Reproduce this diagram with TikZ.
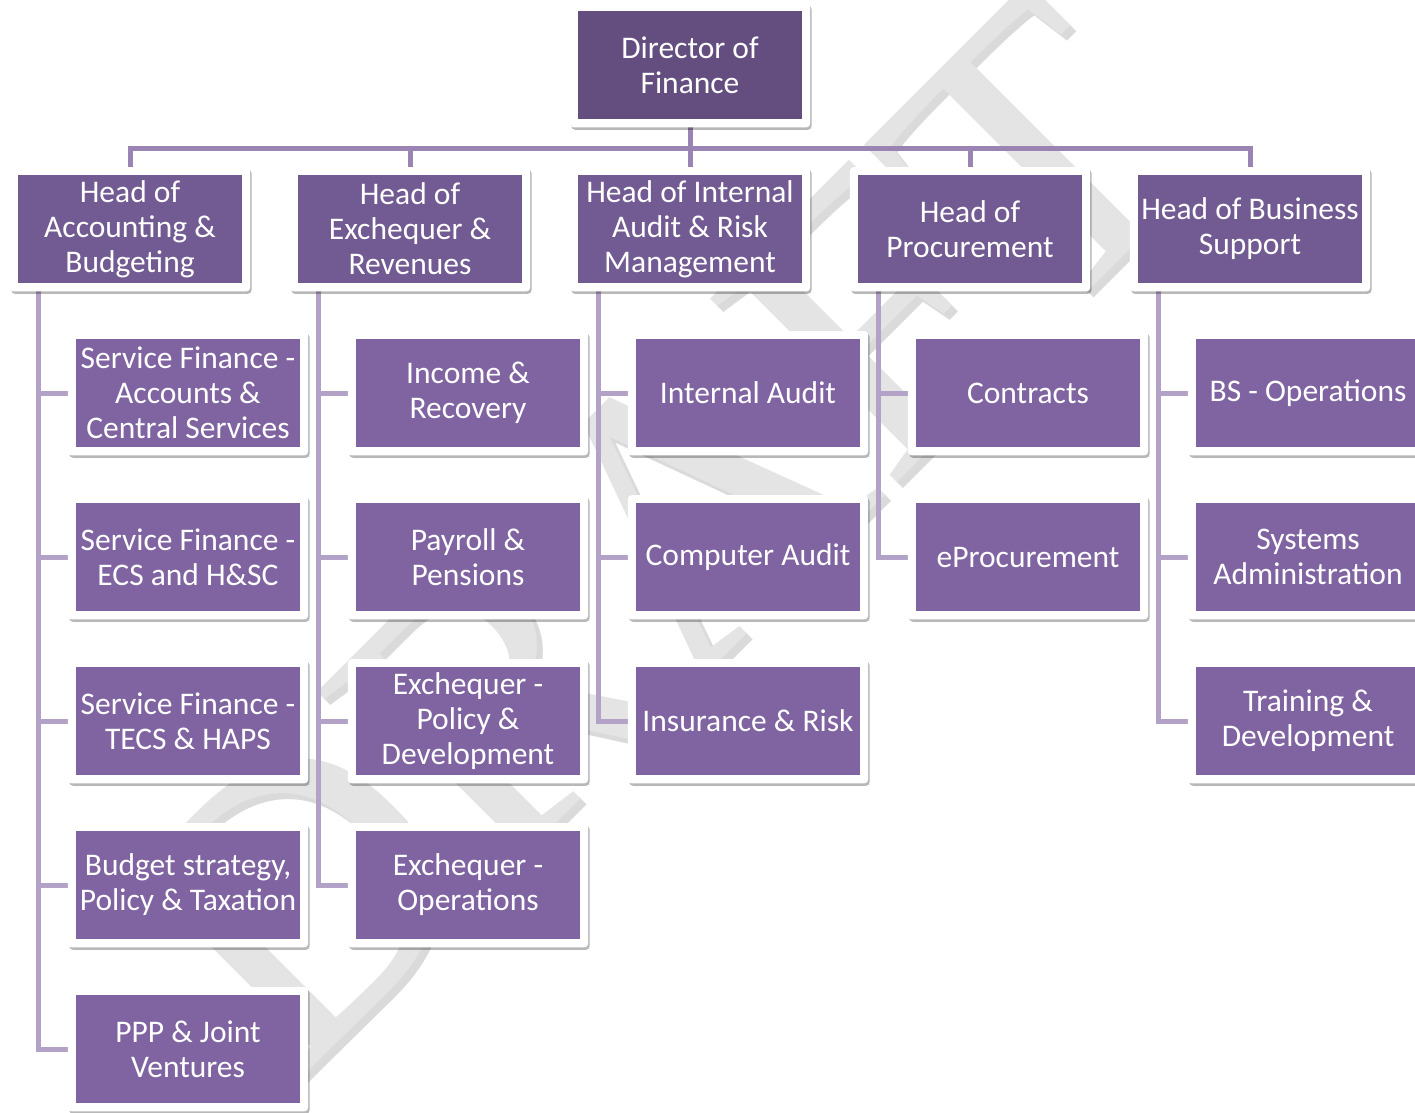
\documentclass[tikz,border=0pt]{standalone}
\usepackage{fontspec}
\setmainfont{Carlito}
\newfontfamily\wmfont{Liberation Serif}
\usetikzlibrary{shadows}
\pgfdeclarelayer{wm}
\pgfdeclarelayer{bg}
\pgfdeclarelayer{frames}
\pgfsetlayers{wm,bg,frames,main}
\definecolor{cDir}{HTML}{644E80}
\definecolor{cHead}{HTML}{725A92}
\definecolor{cSub}{HTML}{8064A2}
\definecolor{cTop}{HTML}{9A84B4}
\definecolor{cLine}{HTML}{B3A2C7}
\definecolor{cWm}{HTML}{E4E4E4}
\definecolor{cWmD}{HTML}{DADADA}
\begin{document}
\begin{tikzpicture}[x=1pt,y=-1pt,
  box/.style={fill=#1, minimum width=224pt, minimum height=107.5pt,
    inner sep=0pt, align=center, text=white,
    font=\fontsize{31.5}{35}\selectfont},
  frame/.style={fill=white, rounded corners=4pt,
    drop shadow={shadow xshift=1.5pt, shadow yshift=-2.5pt, opacity=0.28, fill=black}},
  topconn/.style={draw=cTop, line width=5pt},
  subconn/.style={draw=cLine, line width=5pt},
  wmstyle/.style={font=\wmfont\fontsize{400}{400}\selectfont, rotate=45, anchor=base west, inner sep=0pt}]
\useasboundingbox (0,0) rectangle (1415,1112);
\clip (0,0) rectangle (1415,1112);

% background and watermark
\begin{pgfonlayer}{wm}
\fill[white] (0,0) rectangle (1415,1112);
\node[wmstyle, text=cWmD] (wmshade) at (296,1096) {DRAFT};
\node[wmstyle, text=cWm] (wmtext) at (290,1090) {DRAFT};
\end{pgfonlayer}

% director
\node[box=cDir] (dir) at (690,65) {Director of\\Finance};

% heads
\node[box=cHead] (h1) at (130,229) {Head of\\Accounting \&\\Budgeting};
\node[box=cHead] (h2) at (410,229) {Head of\\Exchequer \&\\Revenues};
\node[box=cHead] (h3) at (690,229) {Head of Internal\\Audit \& Risk\\Management};
\node[box=cHead] (h4) at (970,229) {Head of\\Procurement};
\node[box=cHead] (h5) at (1250,229) {Head of Business\\Support};

% column 1
\node[box=cSub] (a1) at (188,393) {Service Finance -\\Accounts \&\\Central Services};
\node[box=cSub] (a2) at (188,557) {Service Finance -\\ECS and H\&SC};
\node[box=cSub] (a3) at (188,721) {Service Finance -\\TECS \& HAPS};
\node[box=cSub] (a4) at (188,885) {Budget strategy,\\Policy \& Taxation};
\node[box=cSub] (a5) at (188,1049) {PPP \& Joint\\Ventures};
% column 2
\node[box=cSub] (b1) at (468,393) {Income \&\\Recovery};
\node[box=cSub] (b2) at (468,557) {Payroll \&\\Pensions};
\node[box=cSub] (b3) at (468,721) {Exchequer -\\Policy \&\\Development};
\node[box=cSub] (b4) at (468,885) {Exchequer -\\Operations};
% column 3
\node[box=cSub] (c1) at (748,393) {Internal Audit};
\node[box=cSub] (c2) at (748,557) {Computer Audit};
\node[box=cSub] (c3) at (748,721) {Insurance \& Risk};
% column 4
\node[box=cSub] (d1) at (1028,393) {Contracts};
\node[box=cSub] (d2) at (1028,557) {eProcurement};
% column 5
\node[box=cSub] (e1) at (1308,393) {BS - Operations};
\node[box=cSub] (e2) at (1308,557) {Systems\\Administration};
\node[box=cSub] (e3) at (1308,721) {Training \&\\Development};

\coordinate (bus) at (690,148);

\begin{pgfonlayer}{frames}
\foreach \n in {dir,h1,h2,h3,h4,h5,a1,a2,a3,a4,a5,b1,b2,b3,b4,c1,c2,c3,d1,d2,e1,e2,e3}{
  \fill[frame] ([xshift=-8pt,yshift=-8.5pt]\n.south west) rectangle ([xshift=8pt,yshift=8pt]\n.north east);}
\end{pgfonlayer}

\begin{pgfonlayer}{bg}
\draw[topconn] (dir.south) -- (bus);
\foreach \h in {h1,h2,h3,h4,h5}{\draw[topconn] (bus) -| (\h.north);}
\foreach \c in {a1,a2,a3,a4,a5}{\draw[subconn] ([xshift=-92pt]h1.south) |- (\c.west);}
\foreach \c in {b1,b2,b3,b4}{\draw[subconn] ([xshift=-92pt]h2.south) |- (\c.west);}
\foreach \c in {c1,c2,c3}{\draw[subconn] ([xshift=-92pt]h3.south) |- (\c.west);}
\foreach \c in {d1,d2}{\draw[subconn] ([xshift=-92pt]h4.south) |- (\c.west);}
\foreach \c in {e1,e2,e3}{\draw[subconn] ([xshift=-92pt]h5.south) |- (\c.west);}
\end{pgfonlayer}
\end{tikzpicture}
\end{document}
